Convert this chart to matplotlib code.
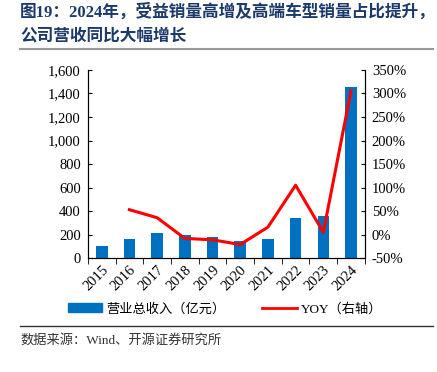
import numpy as np
import matplotlib.pyplot as plt
from matplotlib.patches import Patch
from matplotlib.lines import Line2D

years = ["2015", "2016", "2017", "2018", "2019", "2020", "2021", "2022", "2023", "2024"]
revenue = [102, 159, 218, 201, 179, 142, 164, 338, 357, 1453]
yoy = [None, 53, 36, -8, -11, -21, 16, 105, 5, 306]

serif_cjk = ["Liberation Serif", "Noto Sans CJK SC"]
plt.rcParams["font.family"] = serif_cjk


def main():
    fig = plt.figure(figsize=(4.37, 3.72), dpi=100)
    ax = fig.add_axes([0.201, 0.306, 0.634, 0.506])
    x = np.arange(len(years))
    ax.bar(x, revenue, width=0.42, color="#0070C0", zorder=2)
    ax.set_xlim(-0.5, len(years) - 0.5)
    ax.set_ylim(0, 1600)
    ax.set_yticks(range(0, 1601, 200))
    ax.set_yticklabels([f"{v:,}" for v in range(0, 1601, 200)], fontsize=10.5)
    ax.set_xticks(x)
    ax.set_xticklabels(years, rotation=45, fontsize=10.5, ha="right", rotation_mode="anchor")
    ax.tick_params(axis="x", length=0, pad=4)
    ax.set_xticks(np.arange(-0.5, len(years)), minor=True)
    ax.tick_params(axis="x", which="minor", length=4, direction="out")
    ax.tick_params(axis="y", direction="in", length=3, pad=5)
    ax.spines["top"].set_visible(False)

    ax2 = ax.twinx()
    xs = [i for i, v in enumerate(yoy) if v is not None]
    ys = [v for v in yoy if v is not None]
    ax2.plot(xs, ys, color="#FF0000", lw=2.2, zorder=3)
    ax2.set_ylim(-50, 350)
    ax2.set_yticks(range(-50, 351, 50))
    ax2.set_yticklabels([f"{v}%" for v in range(-50, 351, 50)], fontsize=10.5)
    ax2.tick_params(axis="y", direction="in", length=3, pad=5)
    ax2.spines["top"].set_visible(False)

    handles = [Patch(color="#0070C0"), Line2D([0], [0], color="#FF0000", lw=2)]
    fig.legend(handles, ["营业总收入（亿元）", "YOY（右轴）"], ncol=2, frameon=False,
               loc="center", bbox_to_anchor=(0.515, 0.169), fontsize=9.5,
               handlelength=2.6, columnspacing=2.8, handletextpad=0.3)

    fig.text(0.046, 0.968, "图19：2024年，受益销量高增及高端车型销量占比提升，",
             fontsize=12, fontweight="bold", color="#1B3A6B", va="center")
    fig.text(0.046, 0.903, "公司营收同比大幅增长",
             fontsize=12, fontweight="bold", color="#1B3A6B", va="center")
    fig.add_artist(Line2D([0.046, 0.99], [0.868, 0.868], color="#999999", lw=1.5))
    fig.add_artist(Line2D([0.046, 0.99], [0.124, 0.124], color="#333333", lw=1))
    fig.text(0.046, 0.086, "数据来源：Wind、开源证券研究所", fontsize=9.5, color="#333333", va="center")

    fig.savefig("out.png", dpi=100)


if __name__ == "__main__":
    main()
